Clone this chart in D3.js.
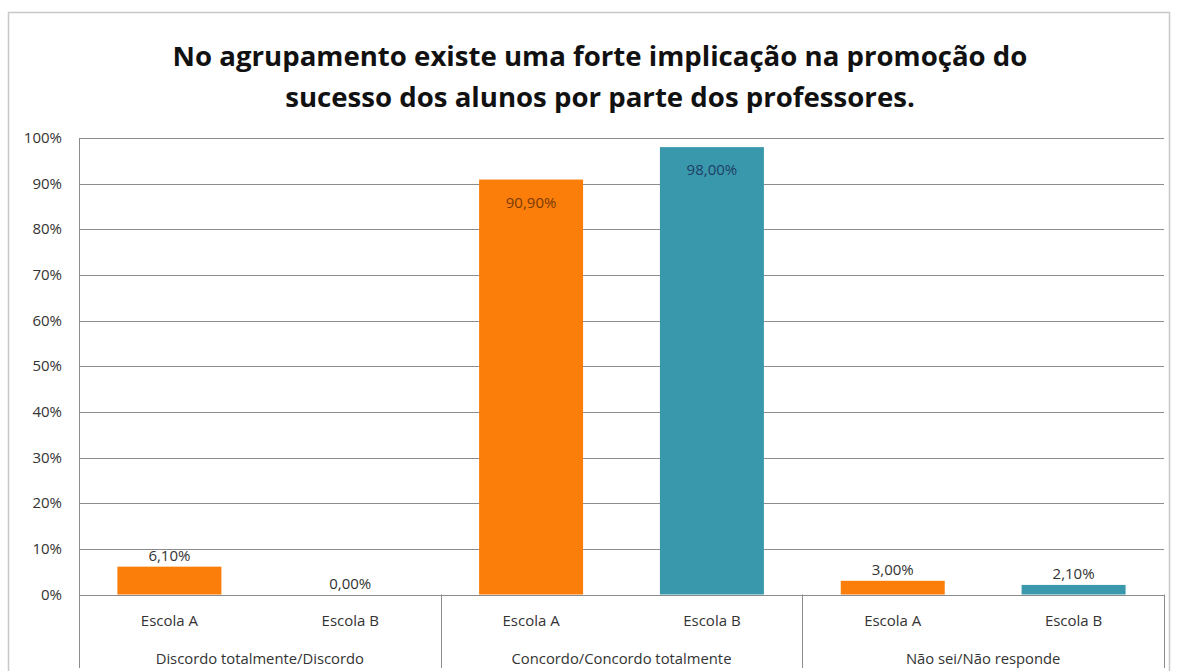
<!DOCTYPE html>
<html><head><meta charset="utf-8">
<script src="https://cdn.jsdelivr.net/npm/d3@7"></script>
<style>body{margin:0;background:#fff}svg{display:block}</style>
</head><body>
<svg id="c" width="1178" height="671"></svg>
<script>
const groups = ["Discordo totalmente/Discordo", "Concordo/Concordo totalmente", "Não sei/Não responde"];
const schools = ["Escola A", "Escola B"];
const escolaA = [6.1, 90.9, 3.0];
const escolaB = [0.0, 98.0, 2.1];
const yTicks = [0,10,20,30,40,50,60,70,80,90,100];
const titleLines = ["No agrupamento existe uma forte implicação na promoção do", "sucesso dos alunos por parte dos professores."];

const colors = {"Escola A":"#FB7E0A","Escola B":"#3A98AC"};
const labelColors = {"Escola A":"#7a3a05","Escola B":"#1d3f66"};

const svg = d3.select("#c");
const L = 79, R = 1164, T = 138, B = 594.5;
const FONT = "'Open Sans', sans-serif";

svg.append("rect").attr("x",8.5).attr("y",12.5).attr("width",1161).attr("height",670)
  .attr("fill","#fff").attr("stroke","#c8c8c8").attr("stroke-width",1.5);

const y = d3.scaleLinear().domain([0,100]).range([B,T]);
const x0 = d3.scaleBand().domain(groups).range([L,R]).paddingInner(0).paddingOuter(0);
const x1 = d3.scaleBand().domain(schools).range([0,x0.bandwidth()]).paddingInner(0.425).paddingOuter(0.2125);

// gridlines
svg.append("g").selectAll("line").data(yTicks).join("line")
  .attr("x1",L).attr("x2",R).attr("y1",d=>Math.round(y(d))+0.5).attr("y2",d=>Math.round(y(d))+0.5)
  .attr("stroke","#8c8c8c").attr("stroke-width",1);

// y axis labels
svg.append("g").selectAll("text").data(yTicks).join("text")
  .attr("x",62).attr("y",d=>y(d)+5).attr("text-anchor","end")
  .attr("font-family",FONT).attr("font-size",15).attr("fill","#333")
  .text(d=>d+"%");

// y axis line
svg.append("line").attr("x1",L+0.5).attr("x2",L+0.5).attr("y1",T).attr("y2",668).attr("stroke","#8c8c8c");
// group separators
svg.append("g").selectAll("line").data(groups).join("line")
  .attr("x1",d=>Math.round(x0(d)+x0.bandwidth())+0.5).attr("x2",d=>Math.round(x0(d)+x0.bandwidth())+0.5)
  .attr("y1",B).attr("y2",668).attr("stroke","#8c8c8c");

const rows = [];
groups.forEach((g,i)=>{
  rows.push({g, s:"Escola A", v:escolaA[i]});
  rows.push({g, s:"Escola B", v:escolaB[i]});
});

svg.append("g").selectAll("rect").data(rows).join("rect")
  .attr("x",d=>x0(d.g)+x1(d.s)).attr("width",x1.bandwidth())
  .attr("y",d=>y(d.v)).attr("height",d=>y(0)-y(d.v))
  .attr("fill",d=>colors[d.s]);

const fmt = v => v.toFixed(2).replace(".",",")+"%";
svg.append("g").selectAll("text").data(rows).join("text")
  .attr("x",d=>x0(d.g)+x1(d.s)+x1.bandwidth()/2)
  .attr("y",d=> d.v>50 ? y(d.v)+28 : y(d.v)-6)
  .attr("text-anchor","middle")
  .attr("font-family",FONT).attr("font-size",15)
  .attr("fill",d=> d.v>50 ? labelColors[d.s] : "#333")
  .text(d=>fmt(d.v));

// category labels
svg.append("g").selectAll("text").data(rows).join("text")
  .attr("x",d=>x0(d.g)+x1(d.s)+x1.bandwidth()/2).attr("y",626)
  .attr("text-anchor","middle").attr("font-family",FONT).attr("font-size",15).attr("fill","#333")
  .text(d=>d.s);
svg.append("g").selectAll("text").data(groups).join("text")
  .attr("x",d=>x0(d)+x0.bandwidth()/2).attr("y",664)
  .attr("text-anchor","middle").attr("font-family",FONT).attr("font-size",14.8).attr("fill","#333")
  .text(d=>d);

// title
svg.append("g").selectAll("text").data(titleLines).join("text")
  .attr("x",600).attr("y",(d,i)=>66+i*41).attr("text-anchor","middle")
  .attr("font-family",FONT).attr("font-weight","bold").attr("font-size",27.6).attr("fill","#111")
  .text(d=>d);
</script>
</body></html>
